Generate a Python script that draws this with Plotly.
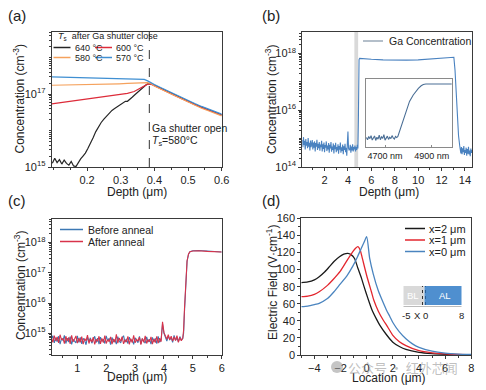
import numpy as np
import plotly.graph_objects as go

W, H = 486, 390
FONT = "Liberation Sans, Arial, sans-serif"
INK = "#222222"
FRAME = "#3a3a3a"


def px(x):
    return x / W


def py(y):
    return 1 - y / H


def pow10(vals):
    return [10.0 ** float(v) for v in vals]


# ===================== (a) =====================
a_names = ["640 °C", "600 °C", "580 °C", "570 °C"]
a_colors = ["#262626", "#dd2c3a", "#f5a25d", "#3f8fd2"]

a_depth_640 = [0.097, 0.104, 0.111, 0.118, 0.125, 0.132, 0.139, 0.146, 0.153, 0.160,
               0.167, 0.174, 0.181, 0.188, 0.195, 0.202, 0.210, 0.218, 0.226, 0.234,
               0.242, 0.250, 0.258, 0.266, 0.274, 0.282, 0.290, 0.298, 0.306, 0.314,
               0.320, 0.326, 0.334, 0.342, 0.350, 0.358, 0.366, 0.374, 0.380]
a_log_640 = [15.10, 15.24, 15.12, 15.20, 15.08, 15.19, 15.10, 15.05, 15.15, 15.03,
             15.01, 15.12, 15.22, 15.30, 15.38, 15.50, 15.63, 15.80, 15.97, 16.10,
             16.22, 16.31, 16.40, 16.48, 16.55, 16.60, 16.65, 16.70, 16.75, 16.80,
             16.80, 16.84, 16.91, 16.98, 17.05, 17.11, 17.17, 17.24, 17.28]

a_depth_600 = [0.095, 0.12, 0.145, 0.17, 0.195, 0.22, 0.245, 0.27, 0.295, 0.32, 0.34, 0.355, 0.37, 0.38]
a_log_600 = [16.73, 16.76, 16.79, 16.82, 16.85, 16.88, 16.91, 16.94, 16.98, 17.02, 17.07, 17.14, 17.22, 17.27]

a_depth_flat = [0.095, 0.12, 0.145, 0.17, 0.195, 0.22, 0.245, 0.27, 0.295, 0.32, 0.345, 0.37, 0.38]
a_log_580 = [17.24, 17.245, 17.25, 17.25, 17.255, 17.245, 17.26, 17.27, 17.28, 17.29, 17.30, 17.31, 17.31]
a_log_570 = [17.47, 17.465, 17.46, 17.455, 17.45, 17.445, 17.44, 17.44, 17.435, 17.43, 17.42, 17.40, 17.36]

a_depth_tail = [0.39, 0.40, 0.42, 0.44, 0.46, 0.48, 0.50, 0.52, 0.54, 0.56, 0.58, 0.60]
a_log_640_tail = [17.28, 17.24, 17.15, 17.06, 16.97, 16.88, 16.80, 16.72, 16.64, 16.57, 16.50, 16.43]
a_log_600_tail = [17.27, 17.23, 17.14, 17.05, 16.96, 16.87, 16.79, 16.71, 16.63, 16.56, 16.49, 16.42]
a_log_580_tail = [17.29, 17.22, 17.13, 17.04, 16.95, 16.86, 16.77, 16.69, 16.61, 16.54, 16.47, 16.40]
a_log_570_tail = [17.32, 17.26, 17.17, 17.08, 16.99, 16.90, 16.82, 16.74, 16.66, 16.59, 16.52, 16.45]

a_xticks = [0.2, 0.3, 0.4, 0.5, 0.6]
a_ytick_exp = [15, 17]
a_yminor_exp = [16, 18]
a_shutter_depth = 0.385

# ===================== (b) =====================
b_noise_left_log = [
    14.95, 14.70, 15.05, 14.78, 14.92, 14.62, 14.98, 14.75, 14.88, 14.66,
    15.02, 14.72, 14.85, 14.58, 14.93, 14.70, 14.80, 14.95, 14.62, 14.86,
    14.68, 14.90, 14.55, 14.84, 14.72, 14.96, 14.60, 14.82, 14.66, 14.88,
    14.57, 14.79, 14.70, 14.92, 14.55, 14.80, 14.64, 14.86, 14.52, 14.77,
    14.68, 14.90, 14.56, 14.75, 14.62, 14.84, 14.50, 14.78, 14.65, 14.88,
    14.54, 14.72, 14.60, 14.83, 14.48, 14.76, 14.63, 14.85, 14.52, 14.70,
    14.58, 14.80, 14.47, 14.74, 14.61, 14.86, 14.50, 14.69, 14.57, 14.79,
    14.45, 14.73, 14.60, 14.82, 14.52, 14.68, 14.40, 14.75, 15.25, 14.66,
    14.60, 14.62, 14.78, 14.50, 14.72, 14.58, 14.80, 14.55, 14.70,
    14.62, 14.75, 14.55, 14.70, 14.60, 14.78, 14.65]
b_noise_left_depth = np.round(np.linspace(0.1, 4.85, len(b_noise_left_log)), 3)

b_profile_depth = [4.89, 4.92, 4.95, 5.0, 5.5, 6, 7, 8, 9, 10, 11, 12, 12.8, 13.0, 13.05,
                   13.15, 13.25, 13.35, 13.45, 13.55]
b_profile_log = [15.6, 17.2, 17.78, 17.82, 17.80, 17.79, 17.77, 17.76, 17.76, 17.77, 17.80,
                 17.84, 17.87, 17.88, 17.86, 17.4, 16.6, 15.8, 15.1, 14.75]

b_noise_right_log = [14.62, 14.48, 14.70, 14.45, 14.66, 14.52, 14.74, 14.42, 14.60, 14.50,
                     14.68, 14.40, 14.63, 14.47, 14.71, 14.44, 14.58, 14.38, 14.65, 14.50, 14.60]
b_noise_right_depth = np.round(np.linspace(13.6, 14.6, len(b_noise_right_log)), 3)

b_band = (4.55, 4.87)
b_xticks = [2, 4, 6, 8, 10, 12, 14]
b_ytick_exp = [14, 16, 18]
b_yminor_exp = [15, 17]

b_inset_noise_log = [14.85, 14.72, 14.90, 14.78, 14.95, 14.70, 14.82, 14.93, 14.68, 14.86,
                     14.75, 14.98, 14.72, 14.88, 14.80, 15.00, 14.70, 14.85, 14.92, 14.74,
                     14.86, 14.78, 14.95, 14.82, 14.76, 14.90, 14.84]
b_inset_noise_nm = np.round(np.linspace(4620, 4750, len(b_inset_noise_log)), 1)
b_inset_rise_nm = [4755, 4764, 4775, 4785, 4793, 4805, 4821, 4832, 4843, 4855, 4864, 4875, 4900, 4950, 4990]
b_inset_rise_log = [14.9, 15.27, 15.75, 16.15, 16.47, 16.85, 17.21, 17.42, 17.58, 17.72, 17.79,
                    17.82, 17.82, 17.82, 17.82]
b_inset_ticks = [4700, 4900]
b_inset_tick_text = ["4700 nm", "4900 nm"]

# ===================== (c) =====================
c_red_noise_log = [
    14.85, 14.70, 14.92, 14.75, 14.88, 14.68, 14.95, 14.78, 14.83, 14.66,
    14.90, 14.74, 14.86, 14.65, 14.93, 14.72, 14.80, 14.91, 14.67, 14.84,
    14.70, 14.89, 14.64, 14.82, 14.75, 14.94, 14.66, 14.81, 14.71, 14.87,
    14.63, 14.80, 14.73, 14.90, 14.65, 14.83, 14.69, 14.92, 14.66, 14.79,
    14.72, 14.88, 14.64, 14.81, 14.70, 14.96, 14.67, 14.84, 14.73, 14.89,
    14.65, 14.78, 14.71, 14.90, 14.63, 14.82, 14.69, 14.93, 14.68, 14.80,
    14.74, 14.87, 14.62, 14.83, 14.70, 14.91, 14.66, 14.79, 14.72, 14.88,
    14.64, 14.81, 14.69, 14.90, 14.67, 14.84, 14.72,
    15.38, 15.02, 14.92, 14.80, 14.95, 14.78, 14.90, 14.74, 14.88, 14.76, 14.92, 14.70, 14.86, 14.75, 14.84]
c_blue_noise_log = [
    14.80, 14.92, 14.68, 14.85, 14.72, 14.90, 14.64, 14.82, 14.76, 14.93,
    14.66, 14.84, 14.71, 14.89, 14.63, 14.80, 14.74, 14.68, 14.91, 14.70,
    14.86, 14.65, 14.83, 14.77, 14.62, 14.88, 14.72, 14.85, 14.67, 14.81,
    14.90, 14.69, 14.84, 14.64, 14.87, 14.73, 14.80, 14.66, 14.91, 14.75,
    14.83, 14.62, 14.86, 14.71, 14.79, 14.64, 14.89, 14.74, 14.68, 14.84,
    14.92, 14.70, 14.81, 14.66, 14.87, 14.73, 14.79, 14.63, 14.85, 14.76,
    14.69, 14.90, 14.65, 14.82, 14.74, 14.67, 14.88, 14.71, 14.80, 14.64,
    14.86, 14.72, 14.83, 14.66, 14.90, 14.70, 14.78,
    15.30, 15.00, 14.86, 14.74, 14.91, 14.79, 14.85, 14.70, 14.93, 14.77, 14.84, 14.72, 14.89, 14.78, 14.82]
c_noise_depth = np.round(np.linspace(0.1, 4.65, len(c_red_noise_log)), 3)
c_rise_depth = [4.68, 4.71, 4.74, 4.77, 4.80, 4.85, 4.90, 5.0, 5.2, 5.5, 5.8, 6.0]
c_red_rise_log = [15.10, 15.80, 16.50, 17.05, 17.40, 17.62, 17.70, 17.72, 17.73, 17.71, 17.70, 17.69]
c_blue_rise_log = [15.00, 15.70, 16.45, 17.02, 17.38, 17.61, 17.70, 17.73, 17.74, 17.72, 17.70, 17.69]
c_names = ["Before anneal", "After anneal"]
c_colors = ["#3c78b4", "#d8334a"]
c_xticks = [1, 2, 3, 4, 5, 6]
c_ytick_exp = [15, 16, 17, 18]
c_yminor_exp = []

# ===================== (d) =====================
d_names = ["x=2 μm", "x=1 μm", "x=0 μm"]
d_colors = ["#1a1a1a", "#e3262e", "#4a84bf"]
d_x2_loc = [-5, -4.5, -4, -3.63, -3.2, -2.85, -2.5, -2.08, -1.75, -1.44, -1.2, -0.93, -0.67, -0.4,
            -0.2, 0.1, 0.4, 0.75, 1.0, 1.5, 2.0, 2.5, 3, 4, 5, 6, 7, 8]
d_x2_field = [84.7, 85.5, 88, 91.7, 97.5, 103.4, 109.5, 115, 118, 119, 117.5, 113, 101.5, 90,
              80, 66, 53, 42, 35, 24, 15, 10, 6.5, 3, 1.5, 0.8, 0.4, 0.2]
d_x1_loc = [-5, -4.5, -4, -3.63, -3, -2.6, -2, -1.57, -1.06, -0.85, -0.67, -0.5, -0.33, 0, 0.36,
            0.54, 0.9, 1.26, 1.6, 2.0, 2.5, 3, 4, 5, 6, 7, 8]
d_x1_field = [68.3, 69, 71, 74, 81.5, 87.8, 98.5, 109, 121, 125, 126.8, 123, 113, 93, 74,
              64.4, 51, 41, 33, 23, 15.5, 11, 5, 2.5, 1.2, 0.6, 0.3]
d_x0_loc = [-5, -4.5, -4, -3.63, -3, -2.5, -2.08, -1.5, -1.06, -0.7, -0.41, -0.2, 0, 0.23, 0.5,
            0.87, 1.13, 1.5, 1.77, 2.0, 2.5, 3, 3.5, 4, 5, 6, 7, 8]
d_x0_field = [56.6, 57.3, 59, 60.5, 66, 74, 82, 93, 104, 115, 125, 132, 138.5, 113, 95,
              76, 66, 53, 45, 38, 27, 19, 13, 9, 4.5, 2.2, 1.1, 0.6]
d_xticks = [-4, -2, 0, 2, 4, 6, 8]
d_yticks = [0, 20, 40, 60, 80, 100, 120, 140, 160]

# ===================== figure =====================
fig = go.Figure()

a_x = [a_depth_640 + a_depth_tail, a_depth_600 + a_depth_tail,
       a_depth_flat + a_depth_tail, a_depth_flat + a_depth_tail]
a_y = [a_log_640 + a_log_640_tail, a_log_600 + a_log_600_tail,
       a_log_580 + a_log_580_tail, a_log_570 + a_log_570_tail]
for name, col, xs, ys in zip(a_names, a_colors, a_x, a_y):
    fig.add_trace(go.Scatter(x=xs, y=pow10(ys), mode="lines", name=name,
                             line=dict(color=col, width=1.2), xaxis="x", yaxis="y",
                             showlegend=False))

b_x = [float(v) for v in b_noise_left_depth] + b_profile_depth + [float(v) for v in b_noise_right_depth]
b_y = b_noise_left_log + b_profile_log + b_noise_right_log
fig.add_trace(go.Scatter(x=b_x, y=pow10(b_y), mode="lines", name="Ga Concentration",
                         line=dict(color="#4a82c0", width=1.1), xaxis="x2", yaxis="y2",
                         showlegend=False))
fig.add_trace(go.Scatter(x=[float(v) for v in b_inset_noise_nm] + b_inset_rise_nm,
                         y=pow10(b_inset_noise_log + b_inset_rise_log), mode="lines",
                         line=dict(color="#4b6f96", width=1.1), xaxis="x5", yaxis="y5",
                         showlegend=False))

c_x = [float(v) for v in c_noise_depth] + c_rise_depth
for name, col, noise, rise in zip(c_names, c_colors,
                                  [c_blue_noise_log, c_red_noise_log],
                                  [c_blue_rise_log, c_red_rise_log]):
    fig.add_trace(go.Scatter(x=c_x, y=pow10(noise + rise), mode="lines", name=name,
                             line=dict(color=col, width=1.1), xaxis="x3", yaxis="y3",
                             showlegend=False))

for name, col, xs, ys in zip(d_names, d_colors, [d_x2_loc, d_x1_loc, d_x0_loc],
                             [d_x2_field, d_x1_field, d_x0_field]):
    fig.add_trace(go.Scatter(x=xs, y=ys, mode="lines", name=name,
                             line=dict(color=col, width=1.3, shape="spline", smoothing=0.6),
                             xaxis="x4", yaxis="y4", showlegend=False))

# ----- axes -----
tickfont = dict(family=FONT, size=11, color=INK)
common = dict(showline=True, mirror=True, linecolor=FRAME, linewidth=1, ticks="outside",
              ticklen=3, tickwidth=1, tickcolor=FRAME, showgrid=False, zeroline=False,
              tickfont=tickfont, automargin=False)


def log_minor(exps, extra):
    lo, hi = min(exps + extra) - 1, max(exps + extra) + 1
    vals = [float(m) * 10.0 ** e for e in range(lo, hi + 1) for m in range(2, 10)]
    return vals + [10.0 ** e for e in extra]


def decades(exps):
    return [10.0 ** e for e in exps]


def sup_labels(exps):
    return [f"10<sup>{e}</sup>" for e in exps]


A_X = [px(51.7), px(221.7)]
A_Y = [py(167), py(32)]
B_X = [px(302.3), px(472)]
C_Y = [py(355), py(219)]
D_X = [px(301.3), px(471.3)]
D_Y = [py(355), py(218.3)]
minor_style = dict(ticks="outside", ticklen=2, tickcolor=FRAME)

fig.update_layout(
    xaxis=dict(domain=A_X, anchor="y", range=[0.095, 0.6], tickvals=a_xticks,
               ticktext=[f"{v:.1f}" for v in a_xticks],
               minor=dict(dtick=0.05, tick0=0.0, **minor_style), **common),
    yaxis=dict(domain=A_Y, anchor="x", type="log", range=[15, 18.7],
               tickvals=decades(a_ytick_exp), ticktext=sup_labels(a_ytick_exp),
               minor=dict(tickvals=log_minor(a_ytick_exp, a_yminor_exp), **minor_style), **common),
    xaxis2=dict(domain=B_X, anchor="y2", range=[0.1, 14.6], tickvals=b_xticks,
                minor=dict(dtick=1, tick0=0, **minor_style), **common),
    yaxis2=dict(domain=A_Y, anchor="x2", type="log", range=[14, 18.75],
                tickvals=decades(b_ytick_exp), ticktext=sup_labels(b_ytick_exp),
                minor=dict(tickvals=log_minor(b_ytick_exp, b_yminor_exp), **minor_style), **common),
    xaxis3=dict(domain=A_X, anchor="y3", range=[0.11, 6], tickvals=c_xticks,
                minor=dict(dtick=0.5, tick0=0, **minor_style), **common),
    yaxis3=dict(domain=C_Y, anchor="x3", type="log", range=[14.28, 18.78],
                tickvals=decades(c_ytick_exp), ticktext=sup_labels(c_ytick_exp),
                minor=dict(tickvals=log_minor(c_ytick_exp, c_yminor_exp), **minor_style), **common),
    xaxis4=dict(domain=D_X, anchor="y4", range=[-5, 8], tickvals=d_xticks,
                minor=dict(dtick=1, tick0=0, **minor_style), **common),
    yaxis4=dict(domain=D_Y, anchor="x4", range=[0, 160], tickvals=d_yticks,
                minor=dict(dtick=10, tick0=0, **minor_style), **common),
    xaxis5=dict(domain=[px(365.7), px(451.7)], anchor="y5", range=[4617, 4986],
                tickvals=b_inset_ticks, ticktext=b_inset_tick_text, showline=True, mirror=True,
                linecolor="#8a8a8a", linewidth=1, ticks="inside", ticklen=2, tickcolor="#8a8a8a",
                showgrid=False, zeroline=False, automargin=False,
                tickfont=dict(family=FONT, size=9, color=INK)),
    yaxis5=dict(domain=[py(147.3), py(79.3)], anchor="x5", type="log", range=[14.3, 18.08],
                showline=True, mirror=True, linecolor="#8a8a8a", linewidth=1, ticks="",
                showticklabels=False, showgrid=False, zeroline=False, automargin=False),
)

# ----- shapes & annotations -----
shapes = []
shapes.append(dict(type="line", xref="x", yref="y domain", x0=a_shutter_depth, x1=a_shutter_depth,
                   y0=0, y1=1, line=dict(color="#333333", width=1, dash="dash")))
shapes.append(dict(type="rect", xref="x2", yref="y2 domain", x0=b_band[0], x1=b_band[1],
                   y0=0, y1=1, fillcolor="#d9d9d9", line=dict(width=0), layer="below"))


def hline(x0, x1, y, color, width=1.5, dash="solid"):
    return dict(type="line", xref="paper", yref="paper", x0=px(x0), x1=px(x1), y0=py(y), y1=py(y),
                line=dict(color=color, width=width, dash=dash))


annotations = []


def text(x, y, s, size=10.5, anchor="left", color=INK, family=FONT, angle=0):
    annotations.append(dict(x=px(x), y=py(y), xref="paper", yref="paper", text=s, showarrow=False,
                            xanchor=anchor, yanchor="middle", textangle=angle,
                            font=dict(family=family, size=size, color=color)))


# axis titles
CONC = "Concentration (cm<sup>-3</sup>)"
text(136.7, 191.5, "Depth (μm)", size=12, anchor="center")
text(389, 191.5, "Depth (μm)", size=12, anchor="center")
text(136.7, 377, "Depth (μm)", size=12, anchor="center")
text(389, 377.5, "Location (μm)", size=12, anchor="center")
text(18.5, 99, CONC, size=12, anchor="center", angle=-90)
text(271, 99, CONC, size=12, anchor="center", angle=-90)
text(20, 285, CONC, size=12, anchor="center", angle=-90)
text(272, 283, "Electric Field (V·cm<sup>-1</sup>)", size=12, anchor="center", angle=-90)

# (a) legend
text(55.5, 36.5, "<i>T</i><sub>s</sub>  after Ga shutter close", size=9)
a_leg_pos = [(53.5, 47.5), (95, 47.5), (53.5, 57.5), (95, 57.5)]
for (lx, ly), name, col in zip(a_leg_pos, a_names, a_colors):
    shapes.append(hline(lx, lx + 17, ly, col, 1.5))
    text(lx + 19, ly, name, size=9)
text(150, 128.5, "Ga shutter open", size=10.5)
text(150, 141, "<i>T</i><sub>s</sub>=580°C", size=10.5)

# (b) legend
shapes.append(hline(363, 383, 41, "#b4bfca", 2))
text(386.5, 41, "Ga Concentration", size=10.5)

# (c) legend
for ly, name, col in zip([229.5, 241.5], c_names, c_colors):
    shapes.append(hline(60, 83, ly, col, 1.5))
    text(86, ly, name, size=10.5)

# (d) legend
for ly, name, col in zip([228.5, 240, 251.5], d_names, d_colors):
    shapes.append(hline(405, 425, ly, col, 1.5))
    text(427, ly, name, size=11)

# (d) schematic inset
shapes.append(dict(type="rect", xref="paper", yref="paper", x0=px(403.5), x1=px(424.5),
                   y0=py(305), y1=py(286), fillcolor="#d9d9d9", line=dict(width=0)))
shapes.append(dict(type="rect", xref="paper", yref="paper", x0=px(424.5), x1=px(461.5),
                   y0=py(305), y1=py(286), fillcolor="#4f8fcf", line=dict(width=0)))
shapes.append(dict(type="line", xref="paper", yref="paper", x0=px(422.5), x1=px(422.5),
                   y0=py(305), y1=py(286), line=dict(color="#333333", width=1, dash="dot")))
shapes.append(dict(type="line", xref="paper", yref="paper", x0=px(425.5), x1=px(425.5),
                   y0=py(305), y1=py(286), line=dict(color="#2b5f95", width=1, dash="dot")))
shapes.append(hline(403.5, 461.5, 306.5, "#bbbbbb", 1))
text(413, 295.5, "BL", size=9.5, anchor="center", color="#ffffff")
text(445, 295.5, "AL", size=9.5, anchor="center", color="#ffffff")
text(405.5, 315, "-5", size=9.5, anchor="center")
text(417, 315, "X", size=9.5, anchor="center")
text(425, 315, "0", size=9.5, anchor="center")
text(461.5, 315, "8", size=9.5, anchor="center")

# panel labels
text(6, 16, "(a)", size=15)
text(260, 16, "(b)", size=15)
text(6, 201, "(c)", size=15)
text(260, 201, "(d)", size=15)

# watermark
shapes.append(dict(type="circle", xref="paper", yref="paper", x0=px(331), x1=px(343),
                   y0=py(373), y1=py(361), fillcolor="rgba(150,150,150,0.55)", line=dict(width=0)))
text(346, 367, "公众号 · 红外芯闻", size=13, color="rgba(150,150,150,0.6)",
     family="Noto Sans CJK SC, sans-serif")

fig.update_layout(
    width=W, height=H, margin=dict(l=0, r=0, t=0, b=0),
    paper_bgcolor="white", plot_bgcolor="white",
    shapes=shapes, annotations=annotations, showlegend=False,
    font=dict(family=FONT, color=INK), hovermode=False,
)

fig.write_html(
    "out.html",
    config={"displayModeBar": False, "staticPlot": True},
    post_script="document.body.style.margin='0px';document.body.style.padding='0px';"
                "document.body.style.overflow='hidden';",
)
